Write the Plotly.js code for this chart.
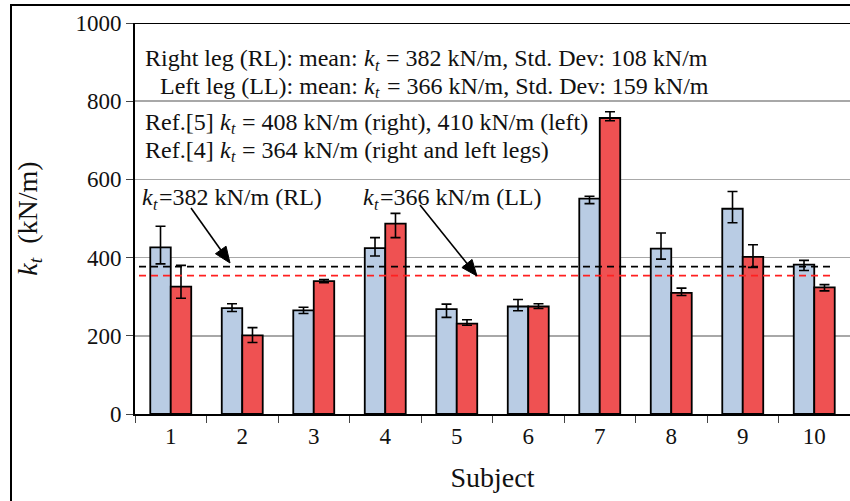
<!DOCTYPE html>
<html>
<head>
<meta charset="utf-8">
<script src="https://cdn.plot.ly/plotly-3.0.1.min.js"></script>
<style>
html,body{margin:0;padding:0;background:#fff;overflow:hidden;}
#chart{width:850px;height:501px;}
#frame{position:fixed;left:10px;top:4px;right:-10px;bottom:-10px;border:2px solid #000;pointer-events:none;}
</style>
</head>
<body>
<div id="chart"></div>
<div id="frame"></div>
<script>
// ---- data ----
const subjects = ["1","2","3","4","5","6","7","8","9","10"];
const rightLeg = [426, 271, 265, 424, 268, 275, 551, 423, 525, 382];
const rightErrPlus  = [54, 11, 8, 27, 13, 18, 6, 40, 44, 11];
const rightErrMinus = [42, 9, 8, 20, 21, 11, 13, 27, 36, 15];
const leftLeg  = [326, 201, 340, 487, 231, 275, 757, 310, 402, 324];
const leftErrPlus  = [54, 20, 4, 26, 10, 7, 16, 12, 31, 7];
const leftErrMinus = [30, 18, 4, 36, 4, 5, 7, 7, 27, 9];
const meanLineRL = 377;   // drawn position of the RL mean line
const meanLineLL = 354;   // drawn position of the LL mean line
const yTicks = [0, 200, 400, 600, 800, 1000];

const KT = "@KT@";   // placeholder for italic k with subscript t
const noteLines = [
  {px: 145, y: 910, parts: ["Right leg (RL): mean: ", KT, " = 382 kN/m, Std. Dev: 108 kN/m"]},
  {px: 160, y: 839, parts: ["Left leg (LL): mean: ", KT, " = 366 kN/m, Std. Dev: 159 kN/m"]},
  {px: 145, y: 747, parts: ["Ref.[5] ", KT, " = 408 kN/m (right), 410 kN/m (left)"]},
  {px: 145, y: 676, parts: ["Ref.[4] ", KT, " = 364 kN/m (right and left legs)"]},
  {px: 142, y: 555, parts: [KT, "=382 kN/m (RL)"]},
  {px: 363, y: 555, parts: [KT, "=366 kN/m (LL)"]}
];

const FONT = "Liberation Serif";
const TXT = "#111";

function px2paper(px) { return (px - 135) / 715; }
function py2val(py) { return (414 - py) / 0.391; }

// text measuring to lay out the rich-text segments
const ctx = document.createElement("canvas").getContext("2d");
function tw(str, size, italic) {
  ctx.font = (italic ? "italic " : "") + size + "px \"Liberation Serif\", serif";
  return ctx.measureText(str).width;
}

const annotations = [];
function seg(px, yv, text, size, italic, yshift) {
  const a = {xref: "paper", yref: "y", x: px2paper(px), y: yv, xanchor: "left", yanchor: "middle",
    showarrow: false, text: text, borderpad: 0, borderwidth: 0, yshift: yshift || 0,
    font: {size: size}};
  if (italic) a.font.style = "italic";
  annotations.push(a);
}
noteLines.forEach(function (ln) {
  let x = ln.px;
  ln.parts.forEach(function (p) {
    if (p === KT) {
      seg(x, ln.y, "k", 24, true, 0);
      x += tw("k", 24, true) + 0.5;
      seg(x, ln.y, "t", 16, true, -7);
      x += tw("t", 16, true) + 1;
    } else {
      const lead = p.match(/^ */)[0];
      seg(x + tw(lead, 24, false), ln.y, p.trim(), 24, false, 0);
      x += tw(p, 24, false);
    }
  });
});

const errStyle = {type: "data", symmetric: false, color: "#000", thickness: 1.6, width: 5};

const traces = [
  {type: "bar", name: "RL", x: subjects, y: rightLeg,
   marker: {color: "#b9cce4", line: {color: "#000", width: 1.8}},
   error_y: Object.assign({array: rightErrPlus, arrayminus: rightErrMinus}, errStyle)},
  {type: "bar", name: "LL", x: subjects, y: leftLeg,
   marker: {color: "#ef5152", line: {color: "#000", width: 1.8}},
   error_y: Object.assign({array: leftErrPlus, arrayminus: leftErrMinus}, errStyle)},
  {type: "scatter", mode: "lines", xaxis: "x2", yaxis: "y", hoverinfo: "skip",
   x: [px2paper(139), px2paper(835)], y: [meanLineRL, meanLineRL],
   line: {color: "#000", width: 1.6, dash: "7px,5px"}},
  {type: "scatter", mode: "lines", xaxis: "x2", yaxis: "y", hoverinfo: "skip",
   x: [px2paper(139), px2paper(835)], y: [meanLineLL, meanLineLL],
   line: {color: "#ff2020", width: 1.6, dash: "7px,5px"}},
  {type: "scatter", mode: "lines", xaxis: "x2", yaxis: "y", hoverinfo: "skip", cliponaxis: false,
   x: [0, 1], y: [1000, 1000], line: {color: "#000", width: 2}}
];

// arrows: shaft + filled triangular head
function addArrow(tail, tip) {
  const dx = tip[0] - tail[0], dy = tip[1] - tail[1];
  const L = Math.hypot(dx, dy), ux = dx / L, uy = dy / L, nx = -uy, ny = ux;
  const headLen = 16, halfW = 6.5;
  const bx = tip[0] - ux * headLen, by = tip[1] - uy * headLen;
  traces.push({type: "scatter", mode: "lines", xaxis: "x2", yaxis: "y", hoverinfo: "skip",
    x: [px2paper(tail[0]), px2paper(bx + ux * 2)], y: [py2val(tail[1]), py2val(by + uy * 2)],
    line: {color: "#000", width: 1.6}});
  traces.push({type: "scatter", mode: "lines", xaxis: "x2", yaxis: "y", hoverinfo: "skip",
    fill: "toself", fillcolor: "#000",
    x: [px2paper(tip[0]), px2paper(bx + nx * halfW), px2paper(bx - nx * halfW), px2paper(tip[0])],
    y: [py2val(tip[1]), py2val(by + ny * halfW), py2val(by - ny * halfW), py2val(tip[1])],
    line: {color: "#000", width: 1}});
}
addArrow([191, 208], [230, 263]);
addArrow([420, 205], [477, 276]);

const layout = {
  width: 850, height: 501,
  margin: {l: 135, r: 0, t: 23, b: 87},
  showlegend: false,
  barmode: "group", bargap: 0.427, bargroupgap: 0,
  font: {family: FONT, size: 23, color: TXT},
  xaxis: {type: "category", tickson: "boundaries", ticks: "outside", ticklen: 7,
    showline: true, linecolor: "#000", linewidth: 2,
    title: {text: "Subject", standoff: 20}},
  xaxis2: {overlaying: "x", range: [0, 1], visible: false},
  yaxis: {range: [0, 1000], tickvals: yTicks, ticks: "outside", ticklen: 7,
    showline: true, linecolor: "#000", linewidth: 2,
    gridcolor: "#a8a8a8", gridwidth: 1.5, zeroline: false,
    title: {text: "<i>k<sub>t</sub></i>  (kN/m)", standoff: 30}},
  annotations: annotations
};

Plotly.newPlot("chart", traces, layout, {displayModeBar: false, staticPlot: true});
</script>
</body>
</html>
